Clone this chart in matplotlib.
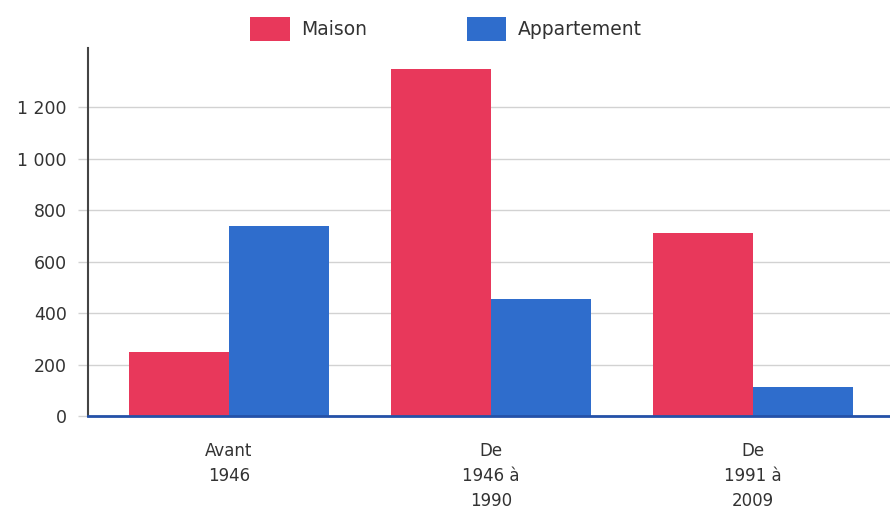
import numpy as np
import matplotlib.pyplot as plt
from matplotlib.ticker import FuncFormatter

plt.rcParams['font.family'] = ['DejaVu Sans']

# logements par période de construction
periodes = ['Avant\n1946', 'De\n1946 à\n1990', 'De\n1991 à\n2009']
maison = [250, 1350, 710]
appartement = [740, 455, 114]

rouge = '#e8385b'
bleu = '#2f6dcc'
gris_texte = '#333333'

fig = plt.figure(figsize=(8.9, 5.09), dpi=100)
ax = fig.add_axes([88/890, 1 - 416/509, 1 - 88/890, (416 - 48)/509])

x = np.arange(len(periodes))
w = 0.382
ax.bar(x - w/2, maison, width=w, color=rouge, label='Maison', zorder=3)
ax.bar(x + w/2, appartement, width=w, color=bleu, label='Appartement', zorder=3)

ax.set_xlim(-0.538, 2.523)
ax.set_ylim(0, 1430)
ax.set_yticks(range(0, 1201, 200))
ax.yaxis.set_major_formatter(FuncFormatter(lambda v, p: '{:,}'.format(int(v)).replace(',', ' ')))
ax.grid(axis='y', color='#d2d2d2', linewidth=1.0, zorder=0)

ax.set_xticks(x)
ax.set_xticklabels(periodes, linespacing=1.5, va='top')
ax.tick_params(axis='x', length=0, pad=19, labelsize=12, labelcolor=gris_texte)
ax.tick_params(axis='y', length=7.2, width=1.0, color='#d2d2d2', pad=8, labelsize=12.5, labelcolor=gris_texte)

for s in ['top', 'right']:
    ax.spines[s].set_visible(False)
ax.spines['left'].set_color('#444444')
ax.spines['left'].set_linewidth(1.5)
ax.spines['bottom'].set_color('#2451a8')
ax.spines['bottom'].set_linewidth(2)
ax.spines['bottom'].set_zorder(4)

fig.legend(loc='center', bbox_to_anchor=(446/890, 1 - 29/509), ncol=2, frameon=False,
           fontsize=13.5, labelcolor=gris_texte, handlelength=2.1, handleheight=1.65,
           handletextpad=0.62, columnspacing=5.3)

fig.savefig('out.png', dpi=100)
